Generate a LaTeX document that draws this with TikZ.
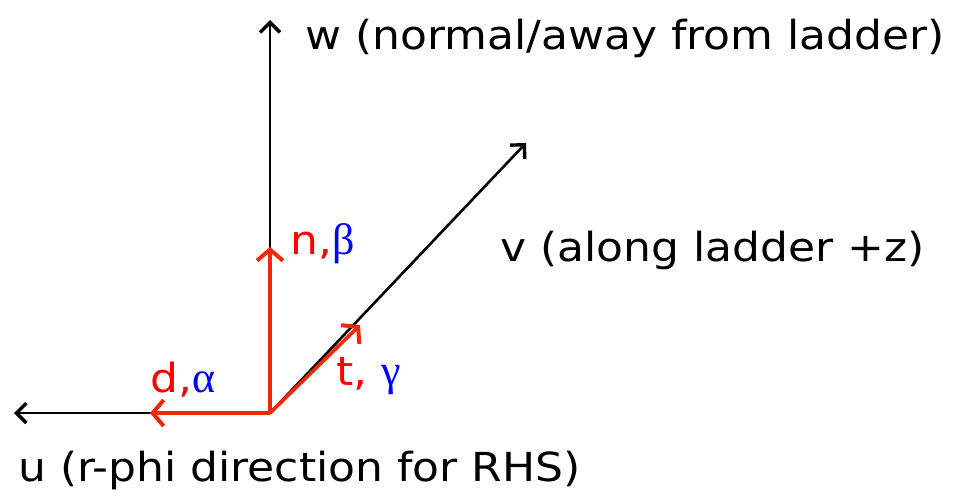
\documentclass[tikz,border=0pt]{standalone}
\usepackage{fontspec}
\setmainfont[FakeStretch=1.1]{DejaVu Sans}
\newfontfamily\grk{Liberation Serif}
\usetikzlibrary{arrows.meta}
\definecolor{axred}{RGB}{240,40,10}
\definecolor{lblred}{RGB}{255,0,0}
\definecolor{lblblue}{RGB}{0,0,255}
\begin{document}
\begin{tikzpicture}[x=1pt,y=-1pt,
  axis/.style={line width=2.6pt,-{Straight Barb[length=10pt,width=20pt,line width=3.4pt]}},
  vec/.style={draw=axred,line width=3.6pt,-{Straight Barb[length=11pt,width=26pt,line width=4pt]}},
  lbl/.style={anchor=west,inner sep=0pt,font=\fontsize{40}{44}\selectfont},
  grklbl/.style={font=\grk\fontsize{44}{44}\selectfont}]
\useasboundingbox (0,0) rectangle (957,499);
\coordinate (O) at (270,413);
\coordinate (W) at (270,20);
\coordinate (U) at (14,413);
\coordinate (V) at (526,143);
\coordinate (N) at (270,247);
\coordinate (D) at (150,413);
\coordinate (T) at (360,325);
\draw[axis] (O) -- (W);
\draw[axis] (O) -- (U);
\draw[axis] (O) -- (V);
\draw[vec] (O) -- (N);
\draw[vec] (O) -- (D);
\draw[vec] (O) -- (T);
\node[lbl] (wl) at (305,38) {w (normal/away from ladder)};
\node[lbl] (vl) at (500,250) {v (along ladder +z)};
\node[lbl] (ul) at (18,470) {u (r-phi direction for RHS)};
\node[lbl] (nl) at (290,244) {\textcolor{lblred}{n,}\textcolor{lblblue}{\grk\fontsize{44}{44}\selectfont β}};
\node[lbl] (dl) at (150,380) {\textcolor{lblred}{d,}\textcolor{lblblue}{\grk\fontsize{44}{44}\selectfont α}};
\node[lbl] (tl) at (336,376) {\textcolor{lblred}{t, }\textcolor{lblblue}{\grk\fontsize{44}{44}\selectfont γ}};
\end{tikzpicture}
\end{document}
